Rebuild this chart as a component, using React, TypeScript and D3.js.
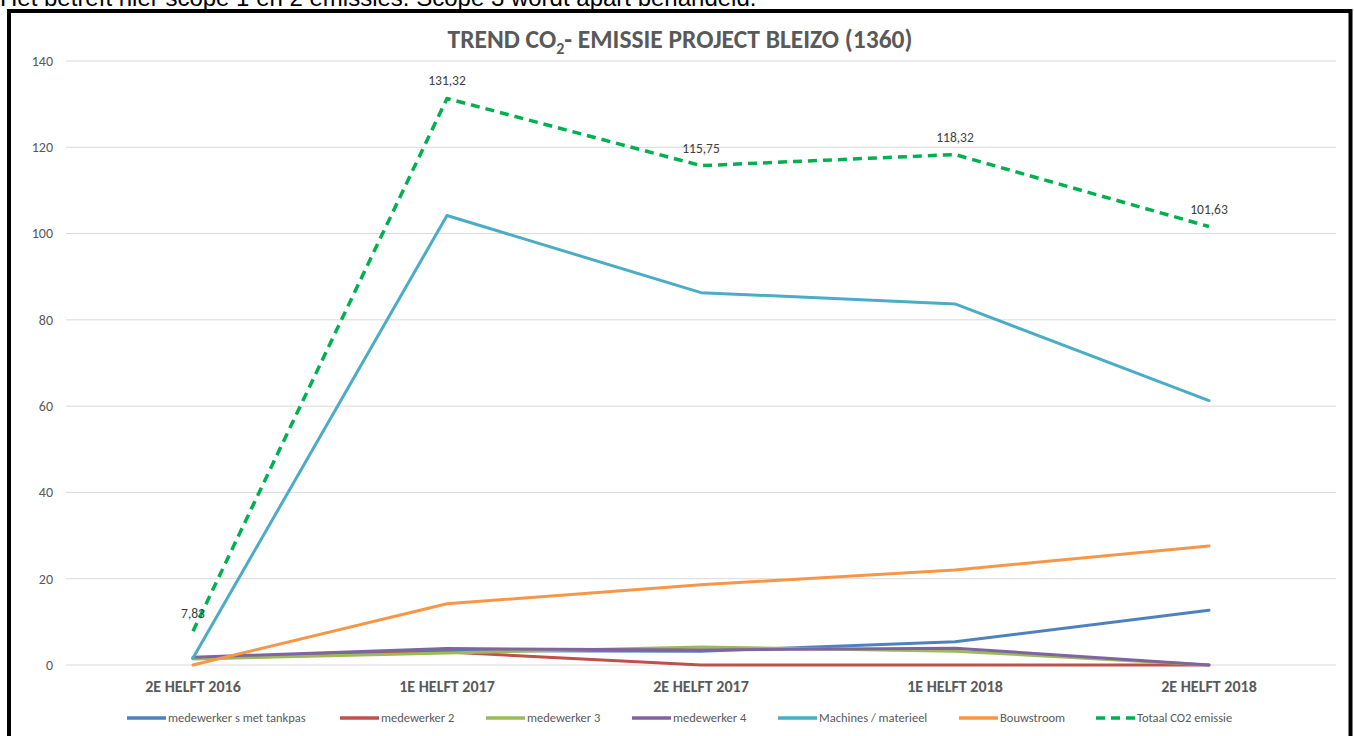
import React from "react";
import * as d3 from "d3";

const categories = ["2E HELFT 2016", "1E HELFT 2017", "2E HELFT 2017", "1E HELFT 2018", "2E HELFT 2018"];
const tankpas = [1.5, 3.3, 3.2, 5.4, 12.7];
const medewerker2 = [1.5, 3.0, 0, 0, 0];
const medewerker3 = [1.4, 2.8, 4.2, 3.2, 0];
const medewerker4 = [1.8, 3.8, 3.5, 3.9, 0];
const machines = [1.6, 104.2, 86.3, 83.7, 61.3];
const bouwstroom = [0, 14.2, 18.6, 22.0, 27.6];
const totaal = [7.83, 131.32, 115.75, 118.32, 101.63];
const totaalLabels = ["7,83", "131,32", "115,75", "118,32", "101,63"];
const yTicks = [0, 20, 40, 60, 80, 100, 120, 140];

const seriesNames = ["medewerker s met tankpas", "medewerker 2", "medewerker 3", "medewerker 4", "Machines / materieel", "Bouwstroom", "Totaal CO2 emissie"];
const seriesValues = [tankpas, medewerker2, medewerker3, medewerker4, machines, bouwstroom, totaal];
const seriesColors = ["#4F81BD", "#C0504D", "#9BBB59", "#8064A2", "#4BACC6", "#F79646", "#00B050"];
const legendX = [127, 340, 486, 632, 778, 959, 1096];

const W = 1354;
const H = 736;
const font = "Carlito, Lato, 'Liberation Sans', sans-serif";

export default function App() {
  const x = d3.scaleBand<string>().domain(categories).range([66, 1336]).padding(0);
  const y = d3.scaleLinear().domain([0, 140]).range([665, 61]);
  const cx = (c: string) => (x(c) as number) + x.bandwidth() / 2;

  const line = d3
    .line<number>()
    .x((_, i) => cx(categories[i]))
    .y((v) => y(v))
    .curve(d3.curveLinear);

  return (
    <div style={{ position: "absolute", left: 0, top: 0, width: W, height: H, background: "#fff" }}>
      <svg width={W} height={H} style={{ display: "block" }}>
        <rect x={0} y={0} width={W} height={H} fill="#fff" />
        <text x={0} y={6} fontFamily="'Liberation Sans', Arial, sans-serif" fontSize={24} fill="#000">
          Het betreft hier scope 1 en 2 emissies. Scope 3 wordt apart behandeld.
        </text>
        <rect x={9} y={11} width={1341.5} height={740} fill="#fff" stroke="#000" strokeWidth={4} />

        <text x={680} y={48} textAnchor="middle" fontFamily={font} fontWeight="bold" fontSize={25.5} fill="#595959">
          TREND CO<tspan fontSize={16} dy={6}>2</tspan>
          <tspan dy={-6}>- EMISSIE PROJECT BLEIZO (1360)</tspan>
        </text>

        {yTicks.map((t) => (
          <g key={t}>
            <line x1={66} x2={1336} y1={y(t)} y2={y(t)} stroke="#D9D9D9" strokeWidth={1} />
            <text x={53} y={y(t)} dy="0.35em" textAnchor="end" fontFamily={font} fontSize={14} fill="#595959">
              {t}
            </text>
          </g>
        ))}

        {categories.map((c) => (
          <text key={c} x={cx(c)} y={692} textAnchor="middle" fontFamily={font} fontWeight="bold" fontSize={16} fill="#595959">
            {c}
          </text>
        ))}

        {seriesValues.map((vals, i) => (
          <path
            key={seriesNames[i]}
            d={line(vals) as string}
            fill="none"
            stroke={seriesColors[i]}
            strokeWidth={i === 6 ? 3.5 : 3}
            strokeDasharray={i === 6 ? "9 6" : undefined}
            strokeLinejoin="round"
            strokeLinecap={i === 6 ? "butt" : "round"}
          />
        ))}

        {totaal.map((v, i) => (
          <text key={i} x={cx(categories[i])} y={y(v) - 13} textAnchor="middle" fontFamily={font} fontSize={13.5} fill="#404040">
            {totaalLabels[i]}
          </text>
        ))}

        {seriesNames.map((n, i) => (
          <g key={n}>
            <line
              x1={legendX[i]}
              x2={legendX[i] + 39}
              y1={718}
              y2={718}
              stroke={seriesColors[i]}
              strokeWidth={3.5}
              strokeDasharray={i === 6 ? "9 6" : undefined}
              strokeLinecap="butt"
            />
            <text x={legendX[i] + 41} y={718} dy="0.35em" fontFamily={font} fontSize={12.5} fill="#595959">
              {n}
            </text>
          </g>
        ))}
      </svg>
    </div>
  );
}
